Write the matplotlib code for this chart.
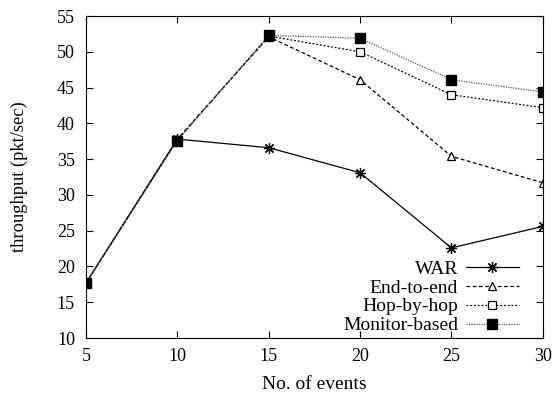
import matplotlib
matplotlib.use('Agg')
import matplotlib.pyplot as plt

events = [5, 10, 15, 20, 25, 30]
war = [17.7, 37.8, 36.6, 33.1, 22.6, 25.6]
end_to_end = [17.7, 37.8, 52.1, 46.1, 35.4, 31.7]
hop_by_hop = [17.7, 37.7, 52.2, 50.0, 44.0, 42.2]
monitor_based = [17.7, 37.6, 52.3, 51.9, 46.1, 44.4]

plt.rcParams['font.family'] = ['Liberation Serif', 'DejaVu Serif']
plt.rcParams['font.size'] = 13

fig = plt.figure(figsize=(5.55, 4.01), dpi=100)
ax = fig.add_axes([0.155, 0.157, 0.823, 0.803])

ax.plot(events, war, color='black', lw=0.9, ls='-', marker=(8, 2, 0), ms=8, mew=0.9, label='WAR')
ax.plot(events, end_to_end, color='black', lw=0.9, ls=(0, (3, 2)), marker='^', ms=6, mfc='white', mew=0.9, label='End-to-end')
ax.plot(events, hop_by_hop, color='black', lw=0.9, ls=(0, (1.5, 1.5)), marker='s', ms=6, mfc='white', mew=0.9, label='Hop-by-hop')
ax.plot(events, monitor_based, color='#555555', lw=0.9, ls=(0, (1, 1)), marker='s', ms=7, mfc='black', mec='black', label='Monitor-based')

ax.set_xlim(5, 30)
ax.set_ylim(10, 55)
ax.set_xticks(events)
ax.set_yticks(range(10, 56, 5))
ax.tick_params(direction='in', top=True, right=True, length=5, width=0.8, labelsize=13)
ax.tick_params(axis='x', pad=7)
ax.tick_params(axis='y', pad=8)
ax.set_xlabel('No. of events', labelpad=8, fontsize=14)
ax.set_ylabel('throughput (pkt/sec)', labelpad=21, fontsize=13.3)

ax.legend(loc='lower right', bbox_to_anchor=(0.965, -0.013), frameon=False, markerfirst=False,
          handlelength=2.73, handletextpad=0.4, labelspacing=0.07, borderaxespad=0, fontsize=14)

fig.savefig('out.png', dpi=100)
